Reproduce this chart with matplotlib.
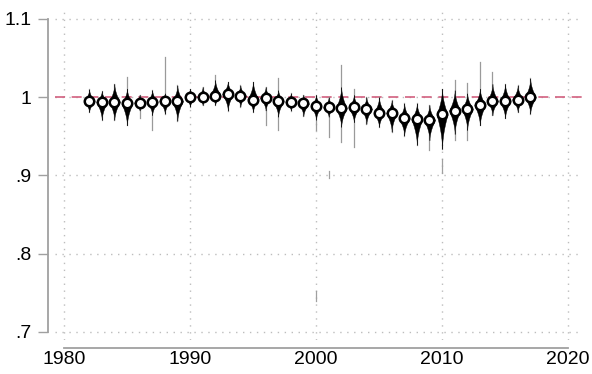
import numpy as np
import matplotlib
matplotlib.use("Agg")
import matplotlib.pyplot as plt

years = list(range(1982, 2018))

median = [0.995, 0.994, 0.994, 0.992, 0.993, 0.994, 0.995, 0.995, 1.000, 1.000,
          1.002, 1.004, 1.002, 0.997, 0.999, 0.995, 0.994, 0.992, 0.989, 0.987,
          0.986, 0.987, 0.985, 0.980, 0.980, 0.973, 0.972, 0.971, 0.978, 0.983,
          0.985, 0.990, 0.995, 0.995, 0.997, 1.000]

body_hi = [1.010, 1.008, 1.017, 1.011, 1.003, 1.009, 1.005, 1.015, 1.011, 1.013,
           1.022, 1.020, 1.015, 1.020, 1.013, 1.009, 1.005, 1.003, 1.003, 1.000,
           1.013, 1.003, 1.000, 1.000, 0.996, 0.992, 0.992, 0.990, 1.011, 1.009,
           1.005, 1.011, 1.017, 1.017, 1.015, 1.024]

body_lo = [0.981, 0.971, 0.971, 0.964, 0.983, 0.977, 0.979, 0.970, 0.988, 0.990,
           0.990, 0.983, 0.988, 0.981, 0.983, 0.975, 0.983, 0.976, 0.971, 0.975,
           0.962, 0.968, 0.966, 0.962, 0.956, 0.951, 0.939, 0.945, 0.934, 0.953,
           0.958, 0.964, 0.977, 0.973, 0.981, 0.979]

# thin tails past the violin body
tail_hi = {1985: 1.026, 1988: 1.052, 1992: 1.029, 1997: 1.024, 2002: 1.041,
           2003: 1.011, 2011: 1.022, 2012: 1.018, 2013: 1.045, 2014: 1.032}
tail_lo = {1986: 0.974, 1987: 0.958, 1996: 0.964, 1997: 0.958, 2000: 0.958,
           2001: 0.949, 2002: 0.943, 2003: 0.936, 2009: 0.932, 2011: 0.945,
           2012: 0.945}
# isolated outlying bits
outlier_year = [2000, 2001, 2010]
outlier_lo = [0.740, 0.897, 0.903]
outlier_hi = [0.752, 0.906, 0.921]

plt.rcParams['font.family'] = ['Liberation Sans', 'DejaVu Sans']

fig = plt.figure(figsize=(5.92, 3.74), dpi=100)
ax = fig.add_axes([0.0929, 0.0909, 0.8901, 0.8824])

grid_col = '#bdbdbd'
for gx in [1980, 1990, 2000, 2010, 2020]:
    ax.axvline(gx, color=grid_col, lw=1, ls=(0, (1, 4)), zorder=0)
for gy in [0.7, 0.8, 0.9, 1.0, 1.1]:
    ax.axhline(gy, color=grid_col, lw=1, ls=(0, (1, 4)), zorder=0)

ax.axhline(1.0, color='#d2607f', lw=1.2, ls=(0, (6, 4)), zorder=1)

W = 0.44
for i, yr in enumerate(years):
    m = median[i]
    hi = tail_hi.get(yr, body_hi[i])
    lo = tail_lo.get(yr, body_lo[i])
    ax.plot([yr, yr], [lo, hi], color='#9a9a9a', lw=0.9, zorder=2)

    y_up = np.linspace(m, body_hi[i], 40)
    y_dn = np.linspace(body_lo[i], m, 40)
    w_up = W * (1 - (y_up - m) / (body_hi[i] - m)) ** 1.8
    w_dn = W * (1 - (m - y_dn) / (m - body_lo[i])) ** 1.8
    yy = np.concatenate([y_dn, y_up])
    ww = np.concatenate([w_dn, w_up])
    ax.fill_betweenx(yy, yr - ww, yr + ww, color='black', lw=0.3, zorder=3)

for i, yr in enumerate(outlier_year):
    ax.plot([yr, yr], [outlier_lo[i], outlier_hi[i]], color='#a0a0a0', lw=0.9, zorder=2)

ax.plot(years, median, 'o', ms=6.8, mfc='white', mec='black', mew=1.8, zorder=4)

ax.set_xlim(1979.29, 2021.1)
ax.set_ylim(0.6897, 1.1115)

ax.set_xticks([1980, 1990, 2000, 2010, 2020])
ax.set_yticks([0.7, 0.8, 0.9, 1.0, 1.1])
ax.set_yticklabels(['.7', '.8', '.9', '1', '1.1'])

for s in ['top', 'right']:
    ax.spines[s].set_visible(False)
ax.spines['left'].set_position(('outward', 5))
ax.spines['bottom'].set_position(('outward', 6))
ax.spines['left'].set_bounds(0.7, 1.1)
ax.spines['bottom'].set_bounds(1980, 2020)
for s in ['left', 'bottom']:
    ax.spines[s].set_color('#a0a0a0')
    ax.spines[s].set_linewidth(1.3)

ax.tick_params(axis='y', length=7, width=1, color='#a0a0a0', pad=5, labelsize=14)
ax.tick_params(axis='x', length=0, pad=2, labelsize=14)

fig.savefig('out.png', dpi=100)
